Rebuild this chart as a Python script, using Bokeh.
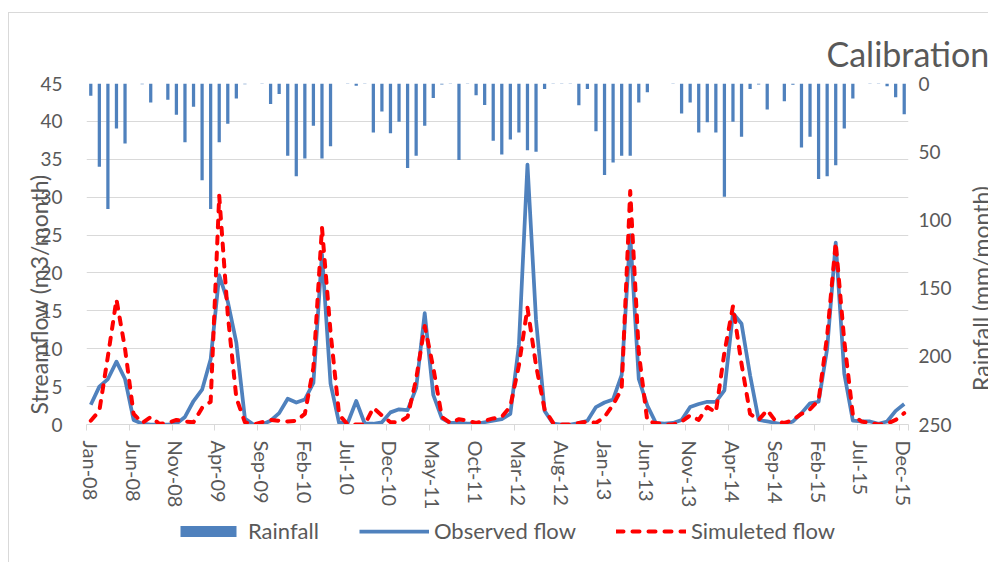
import numpy as np
from bokeh.plotting import figure
from bokeh.layouts import column, row
from bokeh.models import (Range1d, LinearAxis, FixedTicker, Legend, LegendItem,
                          Title, Label, ColumnDataSource, Spacer)
from bokeh.embed import file_html
from bokeh.resources import INLINE

# ---------------- data ----------------
month_names = ["Jan", "Feb", "Mar", "Apr", "May", "Jun",
               "Jul", "Aug", "Sep", "Oct", "Nov", "Dec"]
years = ["08", "09", "10", "11", "12", "13", "14", "15"]
months = [f"{m}-{y}" for y in years for m in month_names]

rainfall = [9, 61, 92, 33, 44, 0, 0.5, 14, 0, 12, 23, 43,
            17, 71, 92, 43, 29.5, 11, 0.5, 0, 0.3, 15, 7.7, 53,
            68, 55, 31, 55, 46, 0, 0.3, 1.7, 0.3, 36, 20.5, 36.5,
            28, 62, 53, 31, 10.6, 0.7, 0.3, 56, 0.3, 8.7, 15.7, 42,
            52, 41, 36, 49, 50, 4, 0.3, 0.3, 0.3, 16, 4, 35,
            67, 58, 53, 53, 14, 6.5, 0, 0, 0.3, 22, 14, 36,
            28.5, 36, 83, 28, 39, 4, 0.7, 19, 0, 13, 1, 47,
            39, 70, 68, 60, 33, 11, 0, 0.3, 0.3, 2, 10, 22.5]

observed = [2.6, 5.0, 6.0, 8.3, 6.0, 0.6, 0.1, 0, 0, 0, 0.1, 1.0,
            3.1, 4.6, 8.6, 19.7, 16.2, 10.8, 0.8, 0, 0, 0.5, 1.5, 3.4,
            2.9, 3.3, 5.5, 22.5, 5.4, 0.2, 0.2, 3.1, 0.1, 0.1, 0.3, 1.6,
            2.0, 1.9, 4.8, 14.7, 3.9, 0.8, 0.2, 0.2, 0.1, 0.1, 0.3, 0.5,
            0.7, 1.4, 10.5, 34.3, 13.8, 1.8, 0.1, 0, 0, 0.2, 0.5, 2.3,
            2.9, 3.3, 6.5, 25.0, 6.0, 2.5, 0.2, 0.1, 0.2, 0.6, 2.3, 2.7,
            3.0, 3.0, 4.5, 14.7, 13.3, 6.5, 0.6, 0.4, 0.2, 0, 0.4, 1.5,
            2.8, 3.0, 10.0, 24.0, 6.7, 0.5, 0.4, 0.4, 0.1, 0.4, 1.8, 2.7]

simulated = [0.5, 1.8, 9.0, 16.5, 10.0, 1.4, 0.2, 1.0, 0.1, 0.2, 0.6, 0.4,
             0.3, 2.2, 3.0, 30.2, 14.5, 3.5, 0.3, 0, 0.3, 0.6, 0.5, 0.4,
             0.5, 1.4, 7.5, 26.0, 12.2, 1.3, 0, 0, 0, 2.2, 1.2, 0.3,
             0.3, 1.0, 6.0, 13.0, 7.5, 1.0, 0.2, 0.7, 0.5, 0.2, 0.5, 0.8,
             1.0, 2.4, 7.8, 15.4, 7.8, 2.0, 0.2, 0, 0, 0.2, 0.4, 0.2,
             1.0, 2.6, 4.7, 30.8, 9.5, 0.4, 0.2, 0, 0, 0.4, 1.2, 0.6,
             2.3, 1.6, 9.5, 15.6, 8.0, 1.4, 0.6, 1.9, 0.4, 0.2, 0.6, 1.4,
             2.0, 3.2, 11.7, 24.0, 11.0, 1.3, 0.4, 0.2, 0, 0.1, 0.6, 1.5]

flow_ticks = [0, 5, 10, 15, 20, 25, 30, 35, 40, 45]
rain_ticks = [0, 50, 100, 150, 200, 250]

# ---------------- styling ----------------
FONT = "Lato"
TXT = "#595959"
BLUE = "#4f81bd"
RED = "#ff0000"
GRID = "#d9d9d9"

n = len(months)
xs = list(range(n))
src = ColumnDataSource(dict(x=xs, month=months, rain=rainfall,
                            obs=observed, sim=simulated))

HEAD = 70          # height of the strip that carries the chart title
TOP, BOTTOM = 13, 84


def bare(fig):
    fig.outline_line_color = None
    fig.xgrid.grid_line_color = None
    fig.ygrid.grid_line_color = None
    fig.border_fill_alpha = 0
    fig.background_fill_alpha = 0


# ---------------- title strip ----------------
tfig = figure(width=162, height=HEAD, x_range=Range1d(0, 1),
              y_range=Range1d(0, 1), output_backend="svg",
              toolbar_location=None, title_location=None,
              x_axis_location=None, y_axis_location=None,
              min_border_left=0, min_border_right=0,
              min_border_top=0, min_border_bottom=0)
bare(tfig)
tfig.add_layout(Label(x=0, y=17, x_units="screen", y_units="screen",
                      text="Calibration", text_align="left",
                      text_baseline="alphabetic", text_font=FONT,
                      text_font_size="34px", text_color=TXT))
head = row(Spacer(width=826, height=HEAD), tfig, spacing=0)

# ---------------- main chart ----------------
p = figure(width=964, height=512 - HEAD,
           x_range=Range1d(-0.5, n - 0.5), y_range=Range1d(0, 45),
           output_backend="svg", toolbar_location=None, title_location=None,
           min_border_left=86, min_border_right=56,
           min_border_top=TOP, min_border_bottom=BOTTOM)
p.extra_y_ranges = {"rain": Range1d(250, 0)}
p.outline_line_color = None
p.background_fill_color = "white"
p.border_fill_alpha = 0

# grid
p.xgrid.grid_line_color = None
p.ygrid.ticker = FixedTicker(ticks=flow_ticks)
p.ygrid.grid_line_color = GRID
p.ygrid.grid_line_width = 1

# x axis
tick_pos = xs[::5]
xa = p.xaxis[0]
xa.ticker = FixedTicker(ticks=tick_pos,
                        minor_ticks=[t - 0.5 for t in tick_pos] + [n - 0.5])
xa.major_label_overrides = {t: months[t] for t in tick_pos}
xa.major_label_orientation = "vertical"
xa.major_tick_out = 0
xa.major_tick_in = 0
xa.minor_tick_out = 6
xa.minor_tick_in = 0
xa.minor_tick_line_color = GRID
xa.axis_line_color = GRID
xa.major_label_standoff = 10
xa.major_label_text_font = FONT
xa.major_label_text_font_size = "20px"
xa.major_label_text_color = TXT

# left axis
ya = p.yaxis[0]
ya.ticker = FixedTicker(ticks=flow_ticks)
ya.axis_line_color = None
ya.major_tick_line_color = None
ya.minor_tick_line_color = None
ya.major_tick_out = 0
ya.minor_tick_out = 0
ya.major_label_standoff = 24
ya.major_label_text_font = FONT
ya.major_label_text_font_size = "19px"
ya.major_label_text_color = TXT

# left axis title, placed over the tick labels as in the reference
p.add_layout(Title(text="Streamflow (m3/month)", align="left", offset=10,
                   standoff=-30, text_font=FONT, text_font_size="23px",
                   text_font_style="normal", text_color=TXT), "left")

# right axis
ra = LinearAxis(y_range_name="rain", ticker=FixedTicker(ticks=rain_ticks))
ra.axis_line_color = None
ra.major_tick_line_color = None
ra.minor_tick_line_color = None
ra.major_tick_out = 0
ra.minor_tick_out = 0
ra.major_label_standoff = 10
ra.major_label_text_font = FONT
ra.major_label_text_font_size = "19px"
ra.major_label_text_color = TXT
p.add_layout(ra, "right")

# glyphs
bars = p.vbar(x="x", width=0.38, top=0, bottom="rain", source=src,
              y_range_name="rain", fill_color=BLUE, line_color=None)
obs_r = p.line("x", "obs", source=src, line_color=BLUE, line_width=3.75,
               line_join="round")
sim_r = p.line("x", "sim", source=src, line_color=RED, line_width=4,
               line_dash="7 9", line_cap="round", line_join="round")

# ---------------- right axis title strip (cut at the edge) ----------------
rt = figure(width=24, height=512 - HEAD, x_range=Range1d(0, 1),
            y_range=Range1d(0, 1), output_backend="svg",
            toolbar_location=None, title_location=None,
            x_axis_location=None, y_axis_location=None,
            min_border_left=0, min_border_right=0,
            min_border_top=TOP, min_border_bottom=BOTTOM)
bare(rt)
rt.add_layout(Label(x=16, y=136, x_units="screen", y_units="screen",
                    text="Rainfall (mm/month)", angle=np.pi / 2,
                    text_align="center", text_baseline="middle",
                    text_font=FONT, text_font_size="23px", text_color=TXT))

# ---------------- legend strip ----------------
# proxies draw the real series, but outside this strip's visible y range
lg = figure(width=988, height=50, x_range=Range1d(-0.5, n - 0.5),
            y_range=Range1d(1000, 1001),
            output_backend="svg", toolbar_location=None, title_location=None,
            x_axis_location=None, y_axis_location=None,
            min_border_left=86, min_border_right=80,
            min_border_top=0, min_border_bottom=0)
bare(lg)
lb = lg.vbar(x="x", width=0.38, top=0, bottom="rain", source=src,
             fill_color=BLUE, line_color=None)
lo = lg.line("x", "obs", source=src, line_color=BLUE, line_width=3.75)
ls = lg.line("x", "sim", source=src, line_color=RED, line_width=4,
             line_dash="7 9", line_cap="round")
legend = Legend(items=[LegendItem(label="Rainfall", renderers=[lb]),
                       LegendItem(label="Observed flow", renderers=[lo]),
                       LegendItem(label="Simuleted flow", renderers=[ls])],
                orientation="horizontal", location=(87, 18),
                border_line_color=None, background_fill_alpha=0,
                glyph_width=70, glyph_height=14, label_height=20,
                label_text_font=FONT, label_text_font_size="22px",
                label_text_color=TXT, spacing=40, padding=5, margin=0,
                label_standoff=5)
lg.add_layout(legend)

# chart-area border (thin grey lines at the left and top, as in the reference)
page = column(head, row(p, rt, spacing=0), lg, spacing=0,
              styles={
                  "background-color": "white",
                  "background-image": "linear-gradient(#d9d9d9, #d9d9d9), "
                                      "linear-gradient(#d9d9d9, #d9d9d9)",
                  "background-size": "1px 100%, 100% 1px",
                  "background-position": "8px 12px, 8px 12px",
                  "background-repeat": "no-repeat",
              })
open("out.html", "w").write(file_html(page, INLINE))
